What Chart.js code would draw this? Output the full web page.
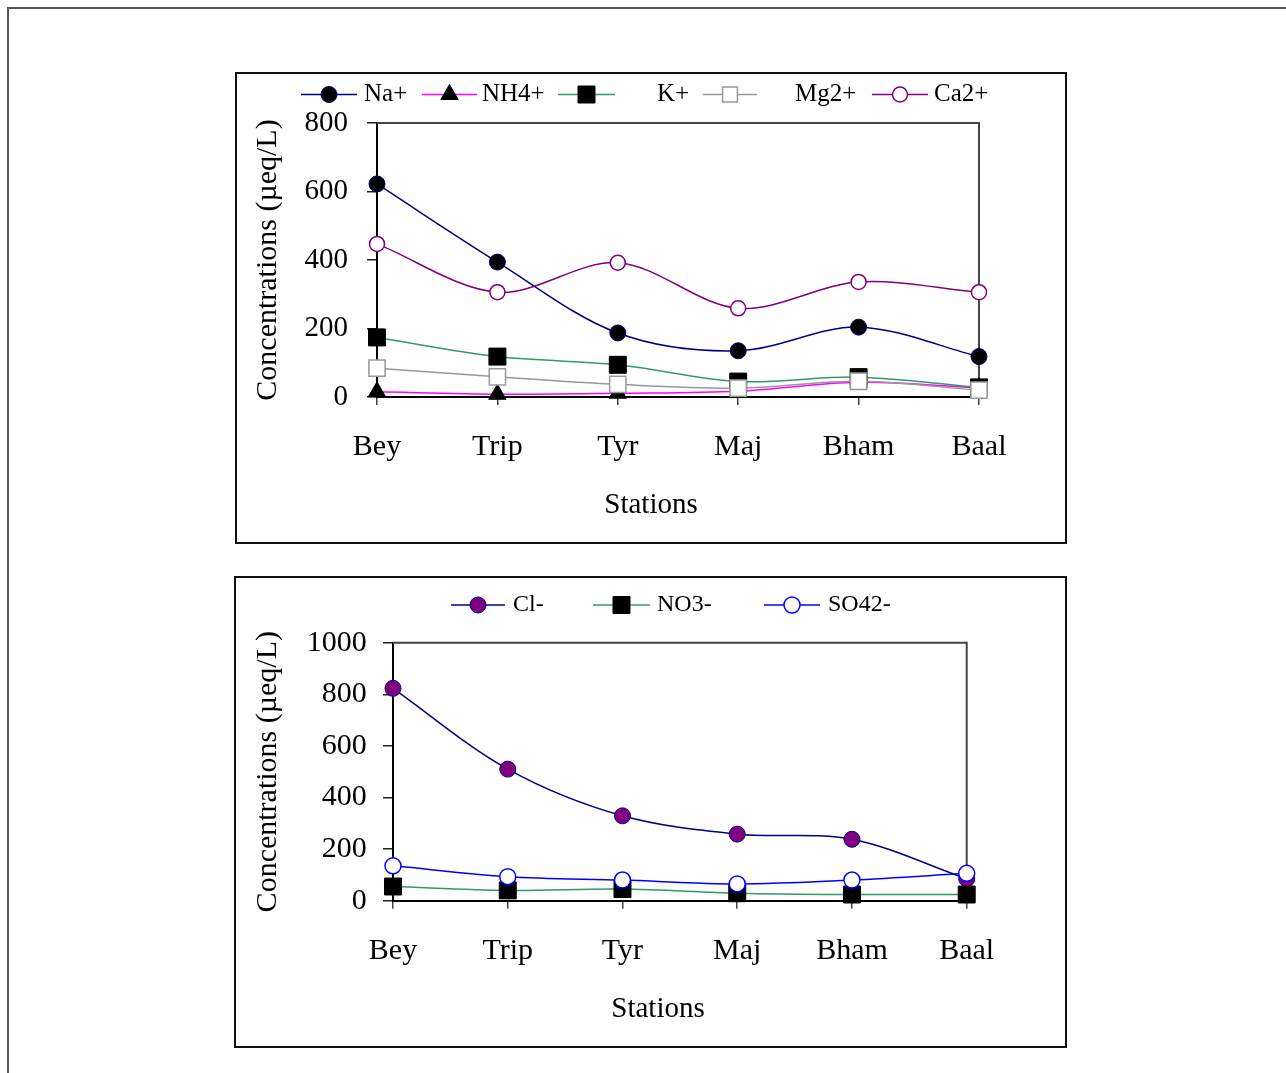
<!DOCTYPE html>
<html><head><meta charset="utf-8">
<script src="https://cdn.jsdelivr.net/npm/chart.js@4.4.0/dist/chart.umd.min.js"></script>
<style>
html,body{margin:0;padding:0;background:#fff;width:1286px;height:1073px;overflow:hidden;position:relative}
.frame{position:absolute;left:7px;top:7px;width:1400px;height:1200px;border-top:2px solid #555;border-left:2px solid #555}
.box{position:absolute;border:2px solid #111;box-sizing:border-box}
.cv{position:absolute}
</style></head><body>
<div class="frame"></div>
<div class="box" style="left:235px;top:72px;width:832px;height:472px"></div>
<div class="box" style="left:234px;top:576px;width:833px;height:472px"></div>
<div class="cv" style="left:236px;top:73px;width:830px;height:470px"><canvas id="c1" width="830" height="470"></canvas></div>
<div class="cv" style="left:250px;top:577px;width:816px;height:470px"><canvas id="c2" width="816" height="470"></canvas></div>
<script>
// ---- data ----
const stations = ['Bey','Trip','Tyr','Maj','Bham','Baal'];
const naValues  = [622, 394, 187, 135, 204, 118];
const nh4Values = [15, 8, 11, 17, 43, 27];
const kValues   = [174, 118, 94, 45, 58, 28];
const mgValues  = [84, 59, 37, 26, 46, 20];
const caValues  = [447, 306, 392, 259, 336, 306];
const cationTicks = [0, 200, 400, 600, 800];

const clValues  = [823, 510, 329, 258, 238, 85];
const no3Values = [55, 40, 45, 29, 24, 24];
const so4Values = [135, 93, 80, 65, 80, 106];
const anionTicks = [0, 200, 400, 600, 800, 1000];

const yTitle = 'Concentrations (µeq/L)';
const xTitle = 'Stations';

// ---- rendering ----
const FONT = '"Liberation Serif", "Times New Roman", serif';
Chart.defaults.font.family = FONT;
Chart.defaults.color = '#000';

function drawMarker(ctx, style, r, x, y, bw) {
  if (Chart.helpers && Chart.helpers.drawPoint) {
    Chart.helpers.drawPoint(ctx, {pointStyle: style, radius: r, rotation: 0, borderWidth: bw}, x, y);
    return;
  }
  ctx.beginPath();
  if (style === 'circle') ctx.arc(x, y, r, 0, Math.PI * 2);
  else if (style === 'rect') { const s = r * Math.SQRT1_2; ctx.rect(x - s, y - s, 2 * s, 2 * s); }
  else if (style === 'triangle') {
    ctx.moveTo(x, y - r);
    ctx.lineTo(x + Math.sin(2 * Math.PI / 3) * r, y + r / 2);
    ctx.lineTo(x - Math.sin(2 * Math.PI / 3) * r, y + r / 2);
    ctx.closePath();
  }
  ctx.fill(); if (bw > 0) ctx.stroke();
}

const legendPlugin = {
  id: 'manualLegend',
  afterDraw(chart, args, opts) {
    const ctx = chart.ctx;
    ctx.save();
    chart.data.datasets.forEach((ds, i) => {
      const it = opts.items[i];
      const y = opts.y;
      ctx.strokeStyle = ds.borderColor; ctx.lineWidth = ds.borderWidth;
      ctx.beginPath(); ctx.moveTo(it.x0, y); ctx.lineTo(it.x1, y); ctx.stroke();
      ctx.fillStyle = ds.pointBackgroundColor; ctx.strokeStyle = ds.pointBorderColor; ctx.lineWidth = ds.pointBorderWidth;
      drawMarker(ctx, ds.pointStyle, it.r || ds.pointRadius, (it.x0 + it.x1) / 2, y, ds.pointBorderWidth);
      ctx.fillStyle = '#000'; ctx.font = opts.font; ctx.textBaseline = 'middle'; ctx.textAlign = 'left';
      ctx.fillText(ds.label, it.tx, y);
    });
    ctx.restore();
  }
};

const framePlugin = {
  id: 'plotFrame',
  beforeDatasetsDraw(chart) {
    const {ctx, chartArea: a} = chart;
    ctx.save();
    ctx.strokeStyle = '#444'; ctx.lineWidth = 2;
    ctx.beginPath(); ctx.moveTo(a.left, a.top); ctx.lineTo(a.right, a.top); ctx.lineTo(a.right, a.bottom); ctx.stroke();
    ctx.restore();
  }
};

function series(label, data, line, style, r, fill, border, bw, order) {
  return {
    label, data, borderColor: line, borderWidth: 1.5, tension: 0.33, fill: false,
    pointStyle: style, pointRadius: r, pointHoverRadius: r,
    pointBackgroundColor: fill, pointBorderColor: border, pointBorderWidth: bw,
    clip: false, order, yAxisID: 'y', xAxisID: 'x'
  };
}

function makeOptions(cfg) {
  return {
    responsive: false, animation: false, events: [],
    layout: {padding: {left: 0, right: 0, top: cfg.padTop, bottom: 0}},
    scales: {
      x: {
        type: 'category', offset: false, position: 'bottom',
        grid: {display: true, drawOnChartArea: false, drawTicks: true, tickLength: 8, color: '#444', lineWidth: 1.5, offset: false},
        border: {display: true, color: '#000', width: 2},
        ticks: {font: {size: 30, family: FONT}, color: '#000', padding: cfg.xPad, autoSkip: false, maxRotation: 0},
        afterFit: s => { s.height = 80; }
      },
      y: {
        type: 'linear', position: 'left', min: 0, max: cfg.ticks[cfg.ticks.length - 1],
        afterBuildTicks: s => { s.ticks = cfg.ticks.map(v => ({value: v})); },
        grid: {display: true, drawOnChartArea: false, drawTicks: true, tickLength: 10, color: '#222', lineWidth: 1.5},
        border: {display: true, color: '#000', width: 2},
        ticks: {font: {size: cfg.yFont, family: FONT}, color: '#000', padding: cfg.yPad, callback: v => String(v)},
        title: {display: true, text: yTitle, font: {size: 30, family: FONT}, color: '#000', padding: {top: cfg.yTitlePad, bottom: 0}},
        afterFit: s => { s.width = cfg.leftW; }
      },
      yR: {
        type: 'linear', position: 'right', display: true,
        grid: {display: false}, border: {display: false}, ticks: {display: false},
        afterFit: s => { s.width = cfg.rightW; }
      }
    },
    plugins: {
      legend: {display: false}, tooltip: {enabled: false},
      title: {display: true, text: xTitle, position: 'bottom', color: '#000',
        font: {size: 29, family: FONT, weight: 'normal', lineHeight: 1.2},
        padding: {top: cfg.tPadTop, bottom: cfg.tPadBot}},
      manualLegend: {y: cfg.legendY, font: cfg.legendFont, items: cfg.legendItems}
    }
  };
}

new Chart(document.getElementById('c1'), {
  type: 'line',
  data: {
    labels: stations,
    datasets: [
      series('Na+', naValues, '#000080', 'circle', 8, '#000', '#000080', 1, 5),
      series('NH4+', nh4Values, '#FF00FF', 'triangle', 10, '#000', '#000', 1, 4),
      series('K+', kValues, '#339966', 'rect', 12, '#000', '#000', 1, 3),
      series('Mg2+', mgValues, '#999999', 'rect', 11.5, '#fff', '#999999', 1.5, 2),
      series('Ca2+', caValues, '#800080', 'circle', 7.5, '#fff', '#800080', 1.5, 1)
    ]
  },
  options: makeOptions({
    padTop: 50, ticks: cationTicks, yFont: 29, yPad: 19, yTitlePad: 14, leftW: 141, rightW: 87,
    xPad: 24, tPadTop: 10.6, tPadBot: 20.6, legendY: 21.5, legendFont: '25px ' + FONT,
    legendItems: [
      {x0: 65, x1: 121, tx: 128},
      {x0: 186, x1: 241, tx: 246},
      {x0: 322, x1: 379, tx: 421},
      {x0: 467, x1: 521, tx: 559, r: 10.5},
      {x0: 636, x1: 692, tx: 698}
    ]
  }),
  plugins: [framePlugin, legendPlugin]
});

new Chart(document.getElementById('c2'), {
  type: 'line',
  data: {
    labels: stations,
    datasets: [
      series('Cl-', clValues, '#000080', 'circle', 8, '#800080', '#000080', 1, 3),
      series('NO3-', no3Values, '#339966', 'rect', 12, '#000', '#000', 1, 2),
      series('SO42-', so4Values, '#0000FF', 'circle', 8, '#fff', '#0000FF', 1.5, 1)
    ]
  },
  options: makeOptions({
    padTop: 65.7, ticks: anionTicks, yFont: 30, yPad: 16.3, yTitlePad: 0, leftW: 143, rightW: 99.3,
    xPad: 24, tPadTop: 10.9, tPadBot: 20.6, legendY: 28, legendFont: '24px ' + FONT,
    legendItems: [
      {x0: 201, x1: 255, tx: 263},
      {x0: 343, x1: 400, tx: 407},
      {x0: 514, x1: 570, tx: 578}
    ]
  }),
  plugins: [framePlugin, legendPlugin]
});
</script>
</body></html>
